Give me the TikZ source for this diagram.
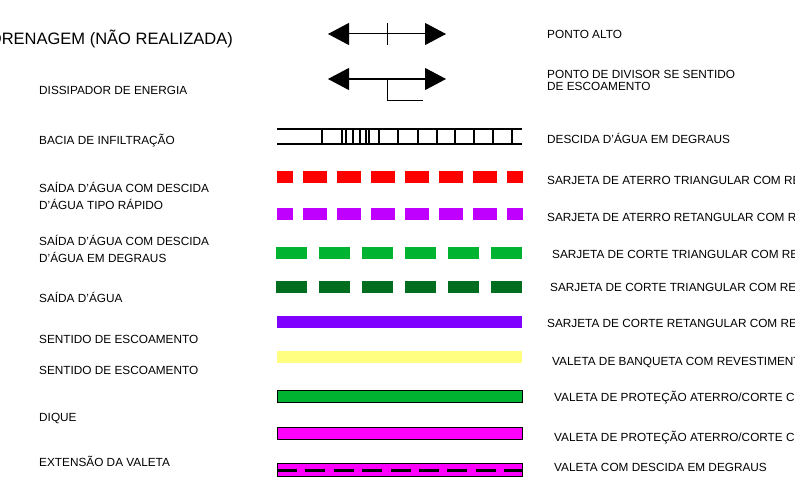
\documentclass[tikz,border=0pt]{standalone}
\usepackage{fontspec}
\setmainfont{Liberation Sans}
\usetikzlibrary{arrows.meta}
\definecolor{sjred}{HTML}{FF0000}
\definecolor{sjpurple}{HTML}{BF00FF}
\definecolor{sjgreen}{HTML}{00B432}
\definecolor{sjdkgreen}{HTML}{006E1E}
\definecolor{sjviolet}{HTML}{8000FF}
\definecolor{vlyellow}{HTML}{FFFF80}
\definecolor{vlgreen}{HTML}{00B432}
\definecolor{vlmagenta}{HTML}{FF00FF}

\begin{document}
\begin{tikzpicture}[x=1pt, y=-1pt,
  lab/.style={font=\fontsize{11.8}{13}\selectfont, inner sep=0pt, anchor=west,
    text height=8.5pt, text depth=0pt},
  lab2/.style={font=\fontsize{11.8}{17}\selectfont, inner sep=0pt, anchor=base west, align=left},
  flow/.style={{Triangle[length=21pt,width=22pt]}-{Triangle[length=21pt,width=22pt]}, line width=1pt},
  dashA/.style={line width=12pt, dash pattern=on 24pt off 10pt, dash phase=8pt},
  dashB/.style={line width=12pt, dash pattern=on 31pt off 12pt},
  band/.style={draw=black, line width=1pt}]
\useasboundingbox (0,0) rectangle (795,495);
\clip (0,0) rectangle (795,495);
% ---------------- left labels ----------------
\node[font=\fontsize{16.5}{18}\selectfont, inner sep=0pt, anchor=east,
  text height=12pt, text depth=0pt] (title) at (233,39) {DRENAGEM (NÃO REALIZADA)};
\node[lab] (dissip) at (39,90) {DISSIPADOR DE ENERGIA};
\node[lab] (bacia) at (39,140) {BACIA DE INFILTRAÇÃO};
\node[lab2] (saidaR) at (39,209.5) {SAÍDA D'ÁGUA COM DESCIDA\\D'ÁGUA TIPO RÁPIDO};
\node[lab2] (saidaD) at (39,262.5) {SAÍDA D'ÁGUA COM DESCIDA\\D'ÁGUA EM DEGRAUS};
\node[lab] (saida) at (39,298) {SAÍDA D'ÁGUA};
\node[lab] (sent1) at (39,339) {SENTIDO DE ESCOAMENTO};
\node[lab] (sent2) at (39,370) {SENTIDO DE ESCOAMENTO};
\node[lab] (dique) at (39,417) {DIQUE};
\node[lab] (ext) at (39,462) {EXTENSÃO DA VALETA};
% ---------------- symbols ----------------
% ponto alto
\draw[flow] (328,34) -- (446,34);
\draw[line width=1pt] (387,23) -- (387,45);
% divisor
\draw[flow] (328,79) -- (446,79);
\draw[line width=1pt] (387,79) -- (387,100) -- (423,100);
% descida em degraus (ladder)
\draw[line width=2pt] (277,129) -- (522,129);
\draw[line width=2pt] (277,144) -- (522,144);
\foreach \x in {322,342,346,353,360,366,369,379,398,418,437,455,474,493,512}
  \draw[line width=1.6pt] (\x,129) -- (\x,144);
% sarjetas
\draw[dashA, sjred] (277,177) -- (523,177);
\draw[dashA, sjpurple] (277,214) -- (523,214);
\draw[dashB, sjgreen] (276,252.5) -- (523,252.5);
\draw[dashB, sjdkgreen] (276,287) -- (523,287);
\draw[line width=12pt, sjviolet] (277,322) -- (522,322);
% valetas
\draw[line width=12pt, vlyellow] (277,357) -- (522,357);
\filldraw[band, fill=vlgreen] (277,390) rectangle (522,402);
\filldraw[band, fill=vlmagenta] (277,427) rectangle (522,439);
\filldraw[band, fill=vlmagenta] (277,463.5) rectangle (522,476);
\draw[line width=3pt, dash pattern=on 20pt off 8.4pt] (277,470) -- (522,470);
% ---------------- right labels ----------------
\node[lab] (alto) at (547,34) {PONTO ALTO};
\node[font=\fontsize{11.8}{12}\selectfont, inner sep=0pt, anchor=base west, align=left]
  (divisor) at (547,90) {PONTO DE DIVISOR SE SENTIDO\\DE ESCOAMENTO};
\node[lab] (degraus) at (547,139) {DESCIDA D'ÁGUA EM DEGRAUS};
\node[lab] (sat) at (547,180) {SARJETA DE ATERRO TRIANGULAR COM REVESTIMENTO};
\node[lab] (sar) at (547,217) {SARJETA DE ATERRO RETANGULAR COM REVESTIMENTO};
\node[lab] (sct1) at (552,254) {SARJETA DE CORTE TRIANGULAR COM REVESTIMENTO};
\node[lab] (sct2) at (550,287) {SARJETA DE CORTE TRIANGULAR COM REVESTIMENTO};
\node[lab] (scr) at (547,323) {SARJETA DE CORTE RETANGULAR COM REVESTIMENTO};
\node[lab] (vb) at (552,361) {VALETA DE BANQUETA COM REVESTIMENTO};
\node[lab] (vp1) at (554,397) {VALETA DE PROTEÇÃO ATERRO/CORTE COM REVESTIMENTO};
\node[lab] (vp2) at (554,437) {VALETA DE PROTEÇÃO ATERRO/CORTE COM REVESTIMENTO};
\node[lab] (vd) at (554,467) {VALETA COM DESCIDA EM DEGRAUS};
\end{tikzpicture}
\end{document}
